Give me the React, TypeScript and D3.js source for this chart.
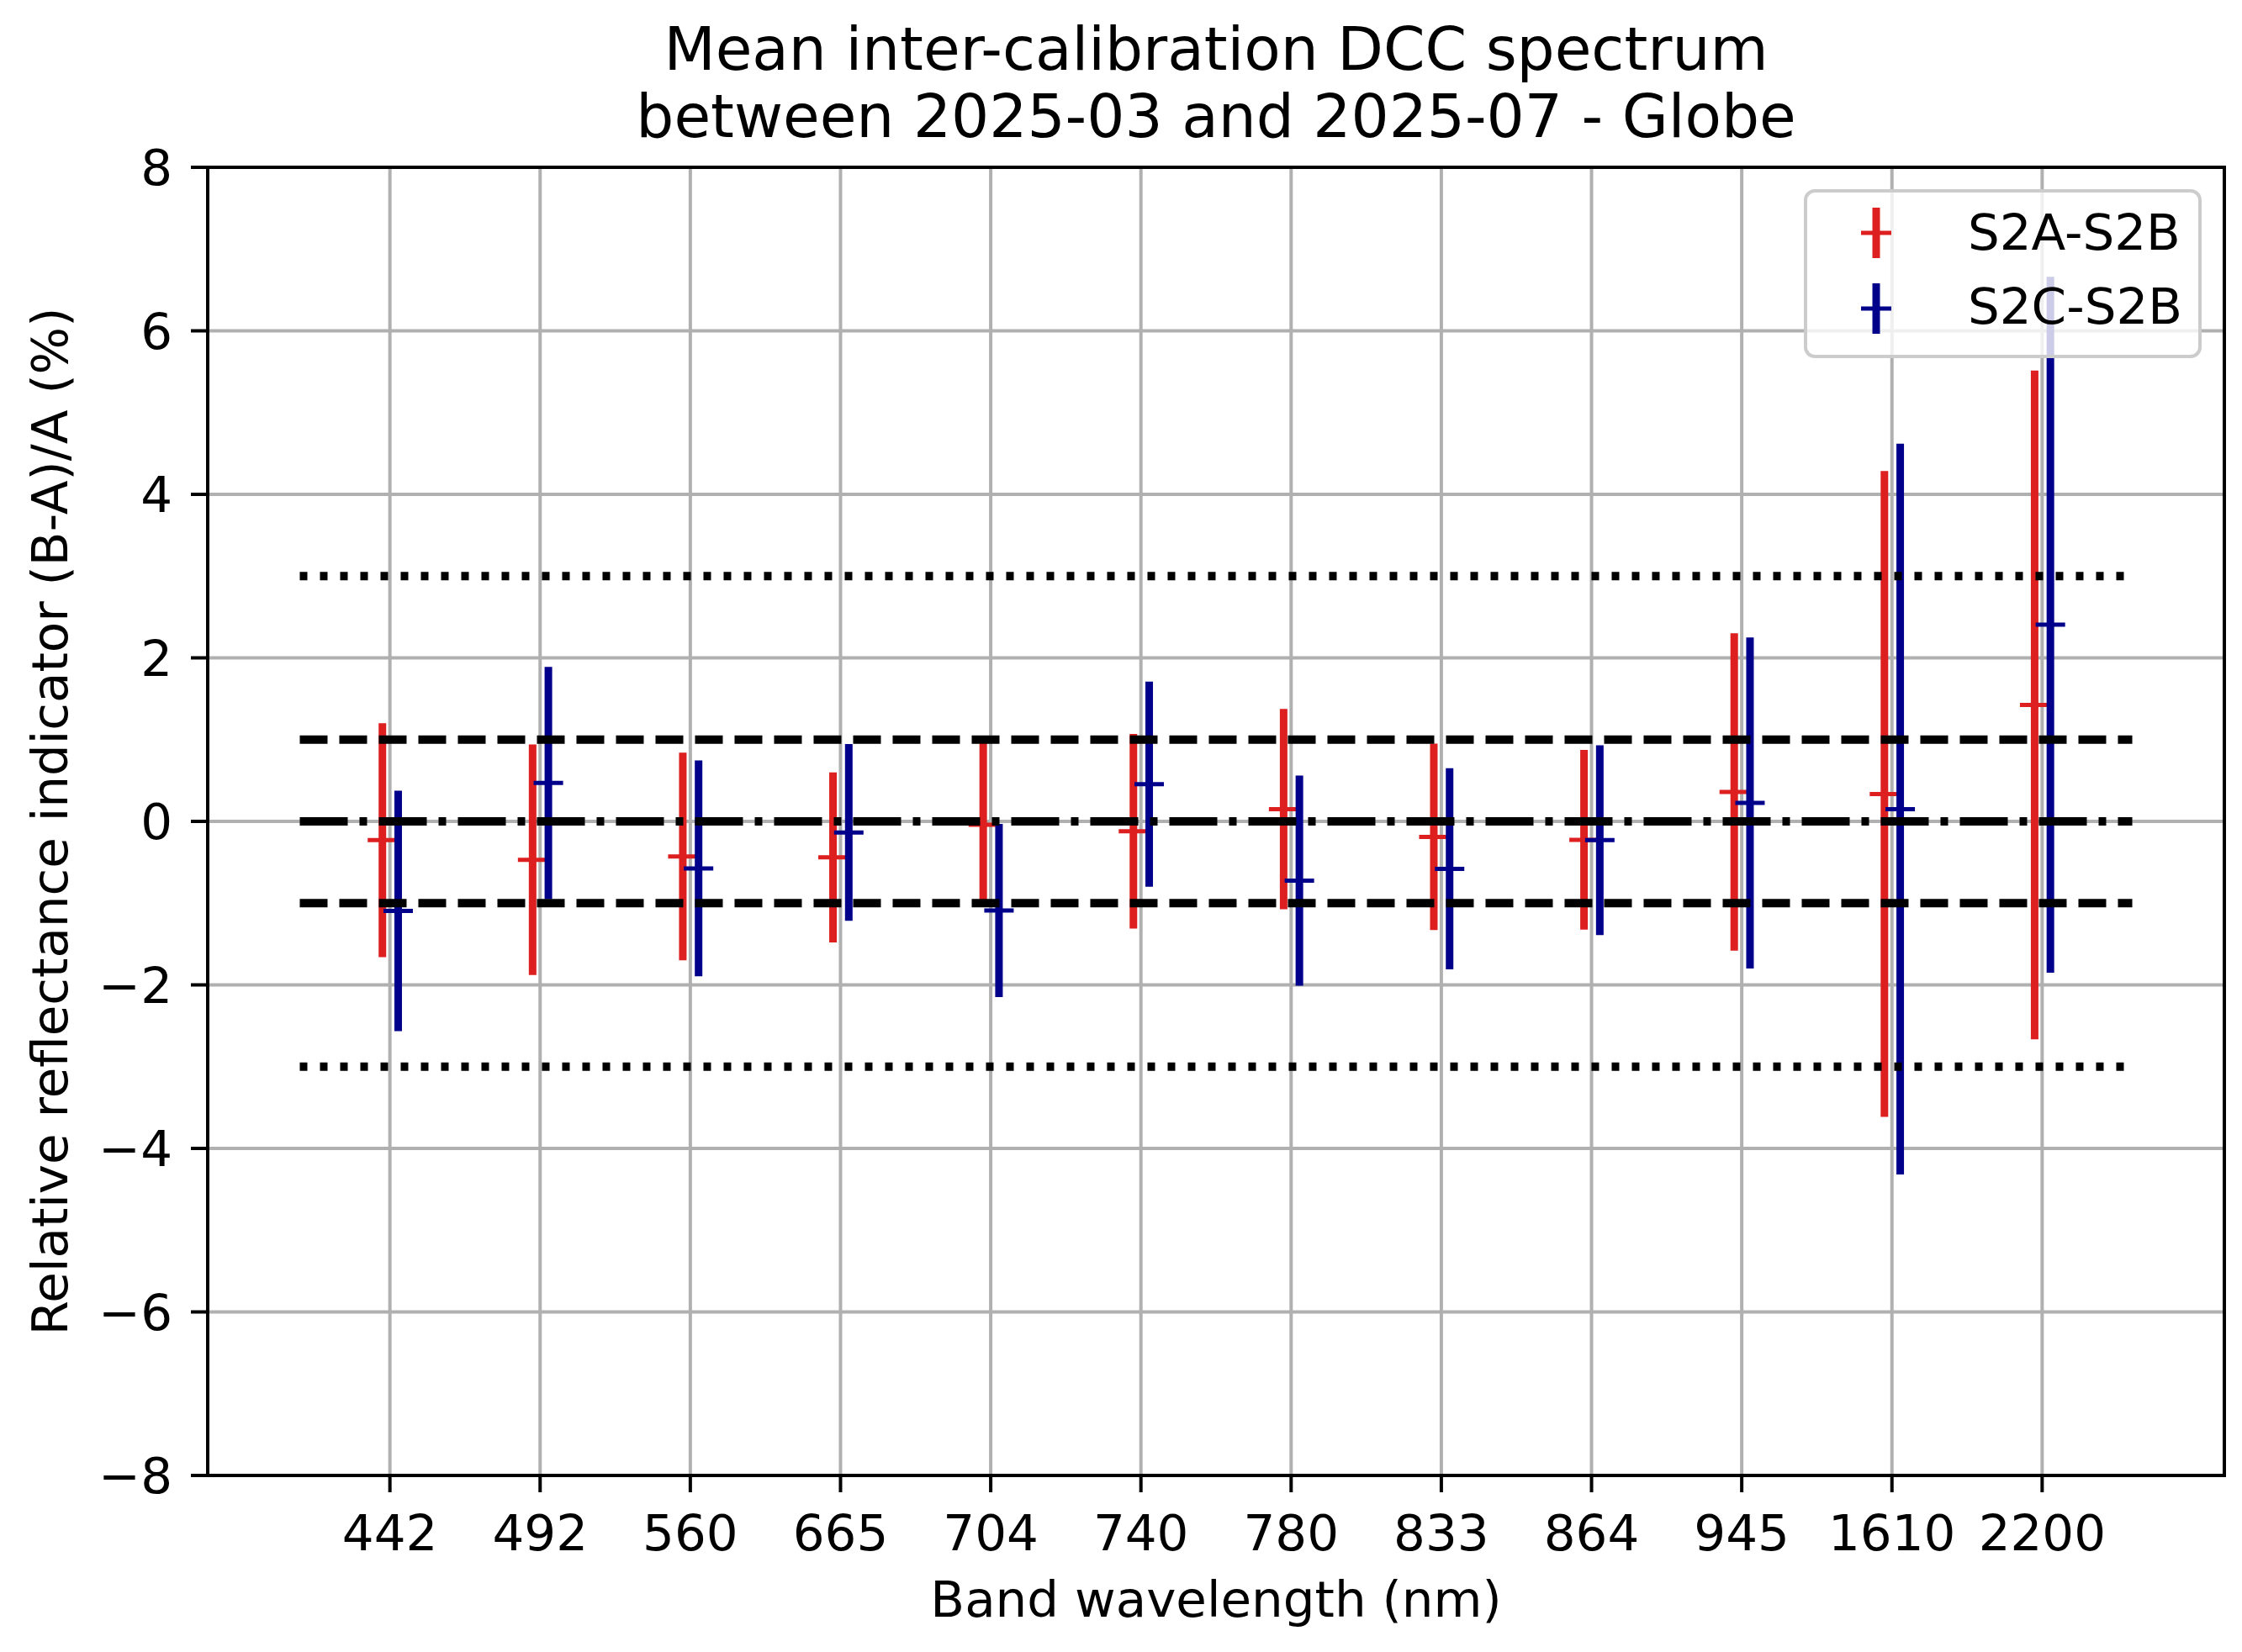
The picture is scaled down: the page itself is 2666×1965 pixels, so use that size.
import { useRef, useEffect } from 'react'
import * as d3 from 'd3'

const WIDTH = 2666
const HEIGHT = 1965
const MARGIN = { top: 199, right: 21, bottom: 210, left: 247 }
const FONT = 'DejaVu Sans, sans-serif'
const FS = 59.5

const TITLE = ['Mean inter-calibration DCC spectrum', 'between 2025-03 and 2025-07 - Globe']
const X_LABEL = 'Band wavelength (nm)'
const Y_LABEL = 'Relative reflectance indicator (B-A)/A (%)'

const BANDS = ['442', '492', '560', '665', '704', '740', '780', '833', '864', '945', '1610', '2200']
const Y_TICKS = [-8, -6, -4, -2, 0, 2, 4, 6, 8]

// S2A-S2B mean difference and spread (%)
const S2A_MEAN = [-0.23, -0.47, -0.43, -0.44, -0.04, -0.12, 0.15, -0.19, -0.225, 0.36, 0.335, 1.425]
const S2A_ERR = [1.43, 1.41, 1.27, 1.04, 1.0, 1.19, 1.225, 1.14, 1.1, 1.94, 3.95, 4.09]
// S2C-S2B
const S2C_MEAN = [-1.095, 0.47, -0.575, -0.135, -1.09, 0.455, -0.725, -0.58, -0.23, 0.225, 0.15, 2.405]
const S2C_ERR = [1.47, 1.42, 1.32, 1.08, 1.06, 1.255, 1.285, 1.23, 1.16, 2.025, 4.47, 4.255]

// reference lines (dotted ±3, dashed ±1, dash-dot 0)
const REF_LEVELS = [3, -3, 1, -1, 0]

const SERIES = [
  { name: 'S2A-S2B', mean: S2A_MEAN, err: S2A_ERR, color: '#dd1f1f', offset: -0.05 },
  { name: 'S2C-S2B', mean: S2C_MEAN, err: S2C_ERR, color: '#00008b', offset: 0.055 },
]

export default function App() {
  const svgRef = useRef<SVGSVGElement>(null)

  useEffect(() => {
    if (!svgRef.current) return
    const innerW = WIDTH - MARGIN.left - MARGIN.right
    const innerH = HEIGHT - MARGIN.top - MARGIN.bottom

    const el = d3.select(svgRef.current)
    el.selectAll('*').remove()
    el.attr('width', WIDTH).attr('height', HEIGHT)

    el.append('rect').attr('width', WIDTH).attr('height', HEIGHT).attr('fill', '#fff')

    const svg = el.append('g').attr('transform', `translate(${MARGIN.left},${MARGIN.top})`)

    const x = d3.scaleLinear().domain([-1.213, 12.213]).range([0, innerW])
    const y = d3.scaleLinear().domain([-8, 8]).range([innerH, 0])

    // Grid
    const grid = svg.append('g')
    BANDS.forEach((_, i) => {
      grid.append('line')
        .attr('x1', x(i)).attr('x2', x(i)).attr('y1', 0).attr('y2', innerH)
        .attr('stroke', '#b0b0b0').attr('stroke-width', 4)
    })
    Y_TICKS.forEach((t) => {
      grid.append('line')
        .attr('x1', 0).attr('x2', innerW).attr('y1', y(t)).attr('y2', y(t))
        .attr('stroke', '#b0b0b0').attr('stroke-width', 4)
    })

    // Error bars
    SERIES.forEach((s) => {
      const g = svg.append('g')
      s.mean.forEach((m, i) => {
        const cx = x(i + s.offset)
        g.append('line')
          .attr('x1', cx).attr('x2', cx)
          .attr('y1', y(m - s.err[i])).attr('y2', y(m + s.err[i]))
          .attr('stroke', s.color).attr('stroke-width', 9)
        g.append('line')
          .attr('x1', cx - 17.5).attr('x2', cx + 17.5)
          .attr('y1', y(m)).attr('y2', y(m))
          .attr('stroke', s.color).attr('stroke-width', 5)
      })
    })

    // Reference lines
    const dashFor = (v: number) => (Math.abs(v) === 3 ? '9,15' : Math.abs(v) === 1 ? '33,14' : '57,14,9,14')
    REF_LEVELS.forEach((v) => {
      svg.append('line')
        .attr('x1', x(-0.6)).attr('x2', x(11.6))
        .attr('y1', y(v)).attr('y2', y(v))
        .attr('stroke', '#000').attr('stroke-width', 10)
        .attr('stroke-dasharray', dashFor(v))
    })

    // Spines
    svg.append('rect')
      .attr('width', innerW).attr('height', innerH)
      .attr('fill', 'none').attr('stroke', '#000').attr('stroke-width', 4)

    // X axis
    const xAxis = svg.append('g').attr('transform', `translate(0,${innerH})`)
    BANDS.forEach((b, i) => {
      xAxis.append('line')
        .attr('x1', x(i)).attr('x2', x(i)).attr('y1', 0).attr('y2', 20)
        .attr('stroke', '#000').attr('stroke-width', 4)
      xAxis.append('text')
        .attr('x', x(i)).attr('y', 89)
        .attr('text-anchor', 'middle')
        .attr('font-family', FONT).attr('font-size', FS)
        .text(b)
    })

    // Y axis
    const yAxis = svg.append('g')
    Y_TICKS.forEach((t) => {
      yAxis.append('line')
        .attr('x1', -20).attr('x2', 0).attr('y1', y(t)).attr('y2', y(t))
        .attr('stroke', '#000').attr('stroke-width', 4)
      yAxis.append('text')
        .attr('x', -42).attr('y', y(t)).attr('dy', '0.36em')
        .attr('text-anchor', 'end')
        .attr('font-family', FONT).attr('font-size', FS)
        .text(t < 0 ? `\u2212${Math.abs(t)}` : `${t}`)
    })

    // Axis labels
    el.append('text')
      .attr('x', MARGIN.left + innerW / 2).attr('y', 1923)
      .attr('text-anchor', 'middle')
      .attr('font-family', FONT).attr('font-size', FS)
      .text(X_LABEL)

    el.append('text')
      .attr('transform', `translate(80,${MARGIN.top + innerH / 2}) rotate(-90)`)
      .attr('text-anchor', 'middle')
      .attr('font-family', FONT).attr('font-size', FS)
      .text(Y_LABEL)

    // Title
    TITLE.forEach((line, i) => {
      el.append('text')
        .attr('x', MARGIN.left + innerW / 2).attr('y', 83 + i * 80)
        .attr('text-anchor', 'middle')
        .attr('font-family', FONT).attr('font-size', 71)
        .text(line)
    })

    // Legend (upper right)
    const lg = el.append('g')
    lg.append('rect')
      .attr('x', 2147).attr('y', 227).attr('width', 469).attr('height', 197)
      .attr('rx', 11)
      .attr('fill', 'rgba(255,255,255,0.8)')
      .attr('stroke', '#cccccc').attr('stroke-width', 4)
    SERIES.forEach((s, i) => {
      const cy = 277 + i * 90
      lg.append('line')
        .attr('x1', 2231).attr('x2', 2231).attr('y1', cy - 30).attr('y2', cy + 30)
        .attr('stroke', s.color).attr('stroke-width', 9)
      lg.append('line')
        .attr('x1', 2213).attr('x2', 2249).attr('y1', cy).attr('y2', cy)
        .attr('stroke', s.color).attr('stroke-width', 5)
      lg.append('text')
        .attr('x', 2340).attr('y', 297 + i * 88)
        .attr('font-family', FONT).attr('font-size', FS)
        .text(s.name)
    })
  }, [])

  return (
    <svg ref={svgRef} style={{ position: 'absolute', left: 0, top: 0, display: 'block' }} />
  )
}
